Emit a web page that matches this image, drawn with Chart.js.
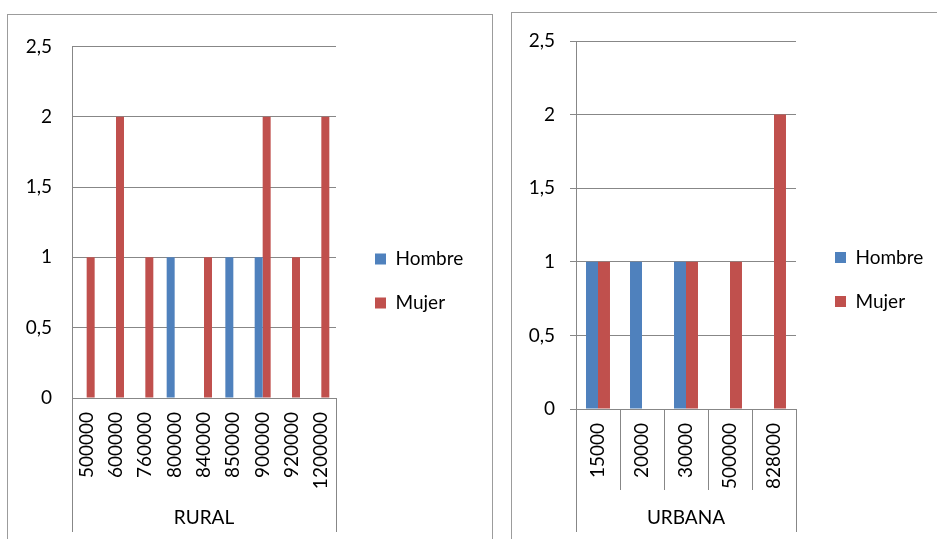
<!DOCTYPE html>
<html>
<head>
<meta charset="utf-8">
<script src="https://cdn.jsdelivr.net/npm/chart.js@4/dist/chart.umd.min.js"></script>
<style>
html,body{margin:0;padding:0;background:#fff;}
body{width:937px;height:539px;overflow:hidden;position:relative;}
.box{position:absolute;border:1px solid #9c9c9c;box-sizing:border-box;background:#fff;}
.box canvas{position:absolute;left:0;top:0;}
</style>
</head>
<body>
<div class="box" style="left:7px;top:14px;width:486px;height:600px;"><canvas id="c1" width="484" height="517"></canvas></div>
<div class="box" style="left:511px;top:12px;width:480px;height:600px;"><canvas id="c2" width="440" height="519"></canvas></div>
<script>
// ---- data ----
const seriesNames = ['Hombre', 'Mujer'];
const groupNames = ['RURAL', 'URBANA'];
const ruralCategories = ['500000', '600000', '760000', '800000', '840000', '850000', '900000', '920000', '1200000'];
const ruralHombre = [null, null, null, 1, null, 1, 1, null, null];
const ruralMujer  = [1, 2, 1, null, 1, null, 2, 1, 2];
const urbanaCategories = ['15000', '20000', '30000', '500000', '828000'];
const urbanaHombre = [1, 1, 1, null, null];
const urbanaMujer  = [1, null, 1, 1, 2];
const yTickLabels = ['0', '0,5', '1', '1,5', '2', '2,5'];

// ---- styles ----
const BLUE = '#4F81BD';
const RED = '#C0504D';
const GRID = '#878787';
const FONT = { family: 'Lato', size: 19 };

function align(v) { return Math.round(v - 0.5) + 0.5; }

const framePlugin = {
  id: 'frame',
  beforeLayout(chart, args, o) {
    const lg = chart.legend;
    if (lg && !lg._fixedW) {
      const orig = lg.fit;
      lg.fit = function () { orig.call(this); this.width = o.legendWidth; };
      lg._fixedW = true;
    }
  },
  afterLayout(chart, args, o) {
    const lg = chart.legend;
    if (lg) {
      lg.left += o.dx; lg.right += o.dx;
      lg.top += o.dy; lg.bottom += o.dy;
    }
  },
  afterDraw(chart, args, o) {
    const { ctx, chartArea: a, scales: { x } } = chart;
    const n = x.ticks.length;
    const step = (a.right - a.left) / n;
    ctx.save();
    ctx.strokeStyle = GRID;
    ctx.lineWidth = 1;
    for (let i = 0; i <= n; i++) {
      const outer = (i === 0 || i === n);
      if (!outer && !o.inner) continue;
      const px = align(a.left + i * step);
      const y2 = outer ? chart.height : a.bottom + o.sepLen;
      ctx.beginPath();
      ctx.moveTo(px, a.bottom);
      ctx.lineTo(px, y2);
      ctx.stroke();
    }
    ctx.restore();
  }
};

function makeChart(id, cats, hombre, mujer, group, cfg) {
  return new Chart(document.getElementById(id), {
    type: 'bar',
    data: {
      labels: cats,
      datasets: [
        { label: seriesNames[0], data: hombre, backgroundColor: BLUE, borderWidth: 0 },
        { label: seriesNames[1], data: mujer, backgroundColor: RED, borderWidth: 0 }
      ]
    },
    options: {
      responsive: false,
      animation: false,
      devicePixelRatio: 1,
      datasets: { bar: { categoryPercentage: 0.545, barPercentage: 1 } },
      layout: { padding: { left: 0, top: cfg.top, right: 0, bottom: 0 } },
      plugins: {
        tooltip: { enabled: false },
        legend: {
          position: 'right',
          align: 'start',
          labels: { boxWidth: 11, boxHeight: 11, padding: 25, color: '#000', font: FONT }
        },
        frame: { legendWidth: cfg.legendWidth, dx: cfg.dx, dy: cfg.dy, inner: cfg.inner, sepLen: cfg.sepLen }
      },
      scales: {
        x: {
          grid: { display: false, drawTicks: false },
          border: { color: GRID, width: 1 },
          ticks: { autoSkip: false, minRotation: 90, maxRotation: 90, padding: 14, color: '#000', font: FONT },
          title: { display: true, text: group, color: '#000', font: FONT, padding: { top: 0, bottom: 3 } },
          afterFit(s) { s.height = cfg.xh; }
        },
        y: {
          min: 0, max: 2.5,
          ticks: { stepSize: 0.5, padding: cfg.ytp, color: '#000', font: FONT,
                   callback: (v, i) => yTickLabels[i] },
          grid: { color: GRID, drawTicks: cfg.yticks, tickLength: 6 },
          border: { color: GRID, width: 1 },
          afterFit(s) { s.width = 64; }
        }
      }
    },
    plugins: [framePlugin]
  });
}

makeChart('c1', ruralCategories, ruralHombre, ruralMujer, groupNames[0],
  { top: 29, xh: 134, legendWidth: 156, dx: 14, dy: 180.5, inner: false, sepLen: 0, ytp: 20, yticks: false });
makeChart('c2', urbanaCategories, urbanaHombre, urbanaMujer, groupNames[1],
  { top: 28, xh: 123, legendWidth: 156, dx: 14, dy: 182, inner: true, sepLen: 81, ytp: 15, yticks: true });
</script>
</body>
</html>
